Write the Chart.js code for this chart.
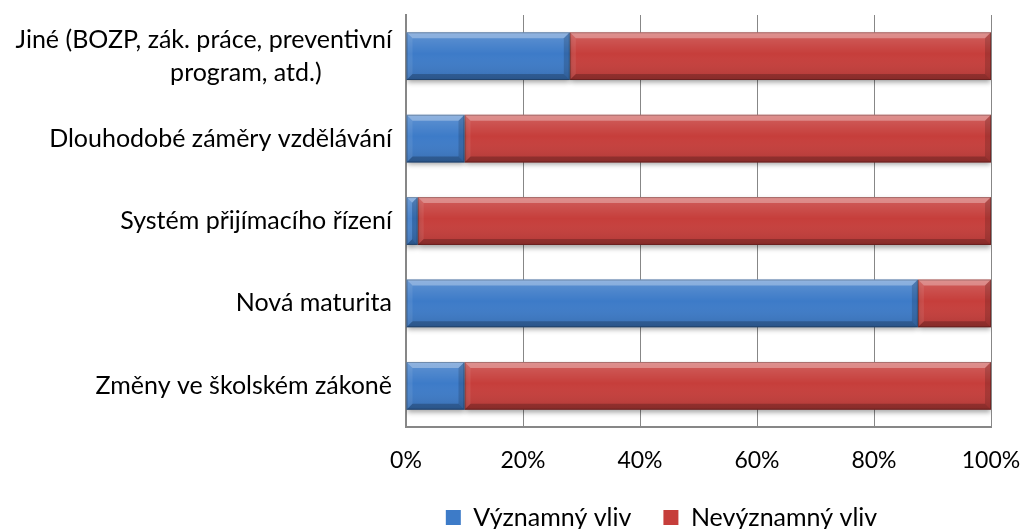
<!DOCTYPE html>
<html>
<head>
<meta charset="utf-8">
<script src="https://cdn.jsdelivr.net/npm/chart.js@4/dist/chart.umd.min.js"></script>
<style>
  html, body { margin: 0; padding: 0; background: #fff; }
  #wrap { width: 1023px; height: 529px; }
</style>
</head>
<body>
<div id="wrap"><canvas id="chart"></canvas></div>
<script>
const categories = [
  "Jiné (BOZP, zák. práce, preventivní program, atd.)",
  "Dlouhodobé záměry vzdělávání",
  "Systém přijímacího řízení",
  "Nová maturita",
  "Změny ve školském zákoně",
];
const significant = [28, 10, 2, 87.5, 10];
const insignificant = [72, 90, 98, 12.5, 90];
const xTicks = [0, 20, 40, 60, 80, 100];

const FONT = "Lato, 'Open Sans', sans-serif";
const gray = "#878787";

const mctx = document.createElement("canvas").getContext("2d");
mctx.font = "25px " + FONT;

// long label goes on two lines, second one sits a bit right of centre
function wrapLabel(label) {
  if (label.length <= 36) return label;
  const cut = label.lastIndexOf(" ", 36);
  const l1 = label.slice(0, cut);
  const l2 = label.slice(cut + 1);
  const sp = mctx.measureText("\u00a0").width;
  return [l1, l2 + "\u00a0".repeat(Math.round(70 / sp))];
}

// bevel + shadow look of the old office bars
const bevel = {
  id: "bevel",
  beforeDatasetsDraw(chart) {
    const ctx = chart.ctx;
    ctx.save();
    ctx.shadowColor = "rgba(0,0,0,0.35)";
    ctx.shadowBlur = 5;
    ctx.shadowOffsetY = 3;
  },
  afterDatasetsDraw(chart) {
    const ctx = chart.ctx;
    ctx.restore();
    chart.data.datasets.forEach((ds, di) => {
      chart.getDatasetMeta(di).data.forEach((bar) => {
        const p = bar.getProps(["x", "y", "base", "height"], true);
        const L = Math.min(p.x, p.base), R = Math.max(p.x, p.base);
        const T = p.y - p.height / 2, B = p.y + p.height / 2;
        if (R - L < 1) return;
        const b = Math.min(6, (R - L) / 2);
        ctx.save();
        const g = ctx.createLinearGradient(0, T, 0, B);
        g.addColorStop(0, "rgba(255,255,255,0.18)");
        g.addColorStop(0.45, "rgba(255,255,255,0.0)");
        g.addColorStop(1, "rgba(0,0,0,0.12)");
        ctx.fillStyle = g;
        ctx.fillRect(L, T, R - L, B - T);
        const quad = (pts, c) => {
          ctx.beginPath();
          ctx.moveTo(pts[0][0], pts[0][1]);
          for (let i = 1; i < pts.length; i++) ctx.lineTo(pts[i][0], pts[i][1]);
          ctx.closePath();
          ctx.fillStyle = c;
          ctx.fill();
        };
        quad([[L, T], [R, T], [R - b, T + b], [L + b, T + b]], "rgba(255,255,255,0.3)");
        quad([[L, B], [R, B], [R - b, B - b], [L + b, B - b]], "rgba(0,0,0,0.22)");
        quad([[L, T], [L + b, T + b], [L + b, B - b], [L, B]], "rgba(255,255,255,0.08)");
        quad([[R, T], [R - b, T + b], [R - b, B - b], [R, B]], "rgba(0,0,0,0.15)");
        ctx.strokeStyle = "rgba(0,0,0,0.25)";
        ctx.lineWidth = 1;
        ctx.strokeRect(L + 0.5, T + 0.5, R - L - 1, B - T - 1);
        ctx.restore();
      });
    });
  },
};

// legend in the original sits right of the canvas centre
const legendShift = {
  id: "legendShift",
  afterLayout(chart) {
    chart.legend.left += 164;
    chart.legend.right += 164;
  },
};

new Chart(document.getElementById("chart"), {
  type: "bar",
  data: {
    labels: categories,
    datasets: [
      {
        label: "Významný vliv",
        data: significant,
        backgroundColor: "#3d7bc8",
        categoryPercentage: 0.58,
        barPercentage: 1,
      },
      {
        label: "Nevýznamný vliv",
        data: insignificant,
        backgroundColor: "#c63e3b",
        categoryPercentage: 0.58,
        barPercentage: 1,
      },
    ],
  },
  options: {
    indexAxis: "y",
    responsive: true,
    maintainAspectRatio: false,
    animation: false,
    layout: { padding: { top: 15, right: 32, bottom: -11, left: 4 } },
    scales: {
      x: {
        stacked: true,
        min: 0,
        max: 100,
        afterBuildTicks(axis) {
          axis.ticks = xTicks.map((v) => ({ value: v }));
        },
        afterFit(axis) {
          axis.height = 46;
          axis.paddingRight = 0;
          axis.paddingLeft = 0;
        },
        ticks: {
          callback: (v) => v + "%",
          color: "#000",
          font: { family: FONT, size: 23 },
          padding: 20,
          maxRotation: 0,
        },
        grid: { color: gray, lineWidth: 1, drawTicks: false },
        border: { color: gray, width: 2 },
      },
      y: {
        stacked: true,
        afterFit(axis) {
          axis.width = 402;
          axis.paddingTop = 0;
          axis.paddingBottom = 0;
        },
        ticks: {
          callback: (v, i) => wrapLabel(categories[i]),
          color: "#000",
          font: { family: FONT, size: 25, lineHeight: 1.3 },
          padding: 14,
        },
        grid: { display: false, drawTicks: false },
        border: { color: gray, width: 2 },
      },
    },
    plugins: {
      tooltip: { enabled: false },
      legend: {
        position: "bottom",
        labels: {
          color: "#000",
          font: { family: FONT, size: 25 },
          boxWidth: 15,
          boxHeight: 15,
          padding: 32,
        },
      },
    },
  },
  plugins: [bevel, legendShift],
});
</script>
</body>
</html>
